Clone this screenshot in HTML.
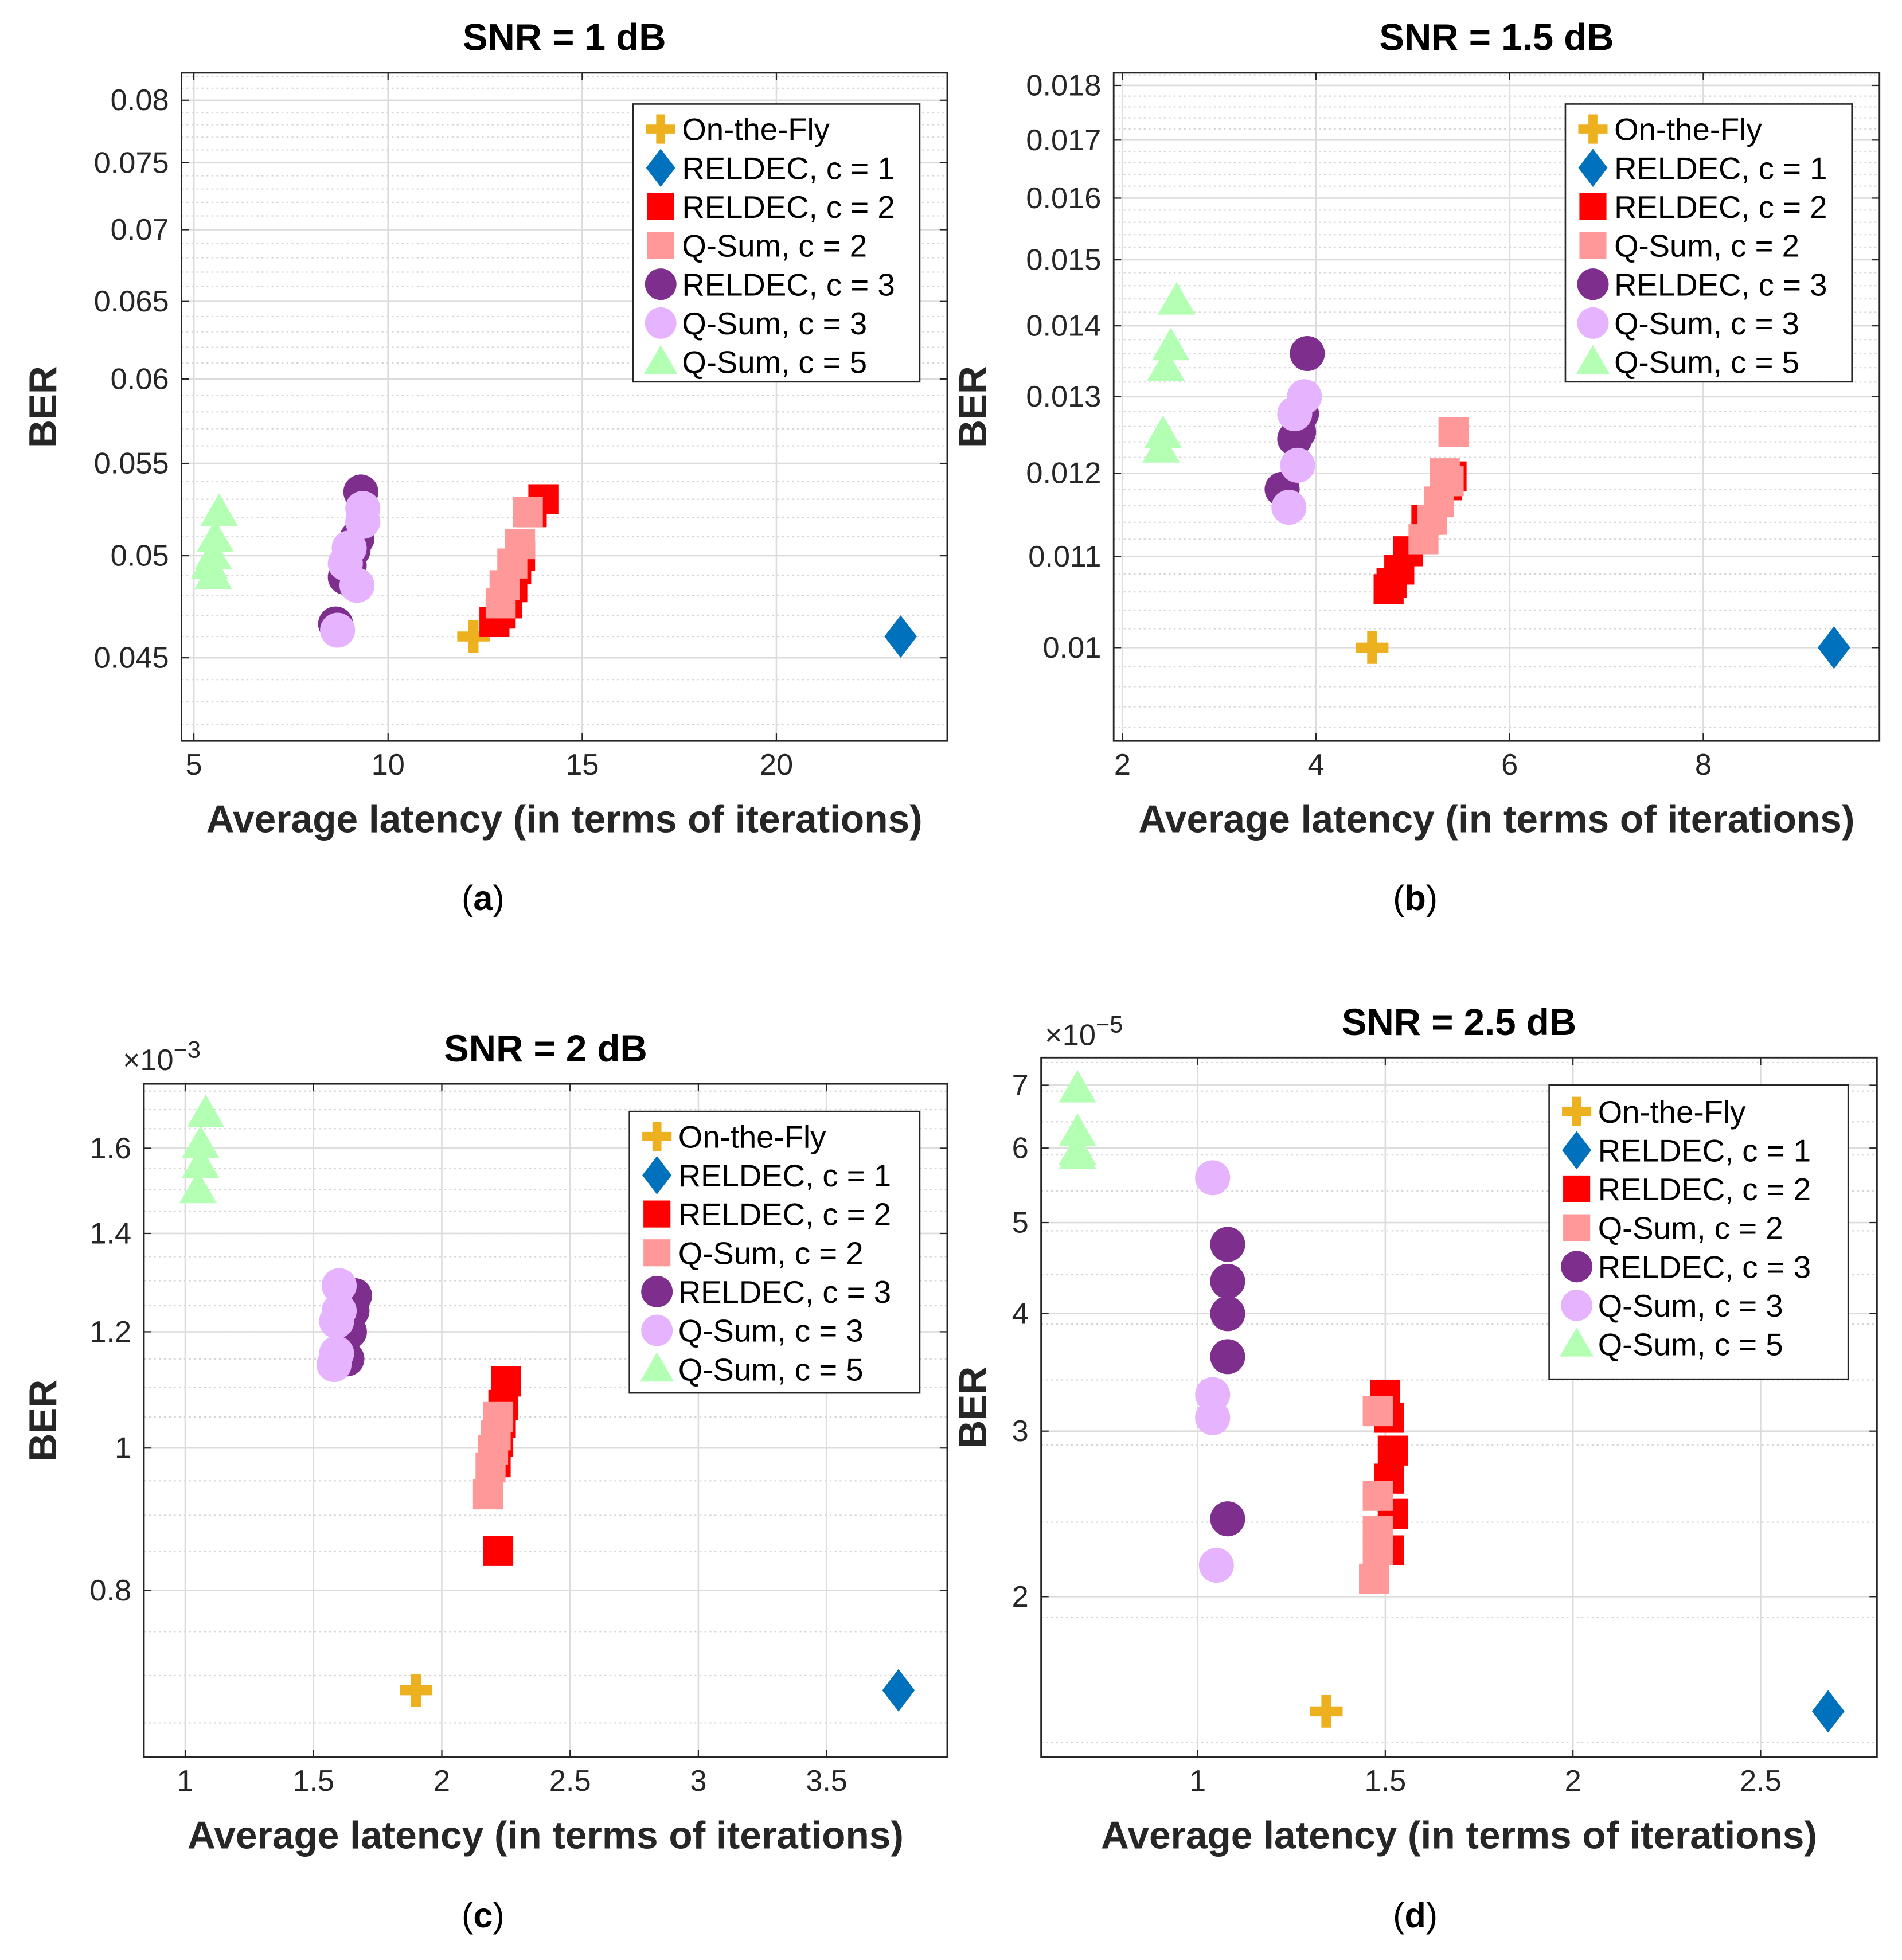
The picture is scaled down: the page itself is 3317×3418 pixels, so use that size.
<!DOCTYPE html>
<html><head><meta charset="utf-8">
<style>
html,body{margin:0;padding:0;background:#fff;}
svg{display:block;}
text{font-family:"Liberation Sans",sans-serif;}
</style></head>
<body>
<svg id="fig" width="3317" height="3418" viewBox="0 0 1520 1566" xmlns="http://www.w3.org/2000/svg"></svg>
<script>
// ---- Panel (a) SNR = 1 dB ----
const aFlyX=[12.2], aFlyY=[0.046];
const aR1X=[23.2], aR1Y=[0.046];
const aR2X=[12.74,12.9,13.06,13.2,13.3,13.4,13.7,14.0], aR2Y=[0.0467,0.0471,0.0476,0.0484,0.0493,0.0500,0.0523,0.0530];
const aQ2X=[12.9,13.0,13.2,13.4,13.6], aQ2Y=[0.0476,0.0485,0.0496,0.0506,0.0523];
const aR3X=[8.65,8.9,9.0,9.1,9.2,9.3], aR3Y=[0.0466,0.0489,0.0495,0.0503,0.0509,0.0534];
const aQ3X=[8.7,9.2,8.9,9.0,9.35,9.35], aQ3Y=[0.0463,0.0485,0.0496,0.0504,0.0518,0.0525];
const aQ5X=[5.4,5.5,5.5,5.55,5.65], aQ5Y=[0.0495,0.0490,0.0500,0.0509,0.0523];
const aXTicks=[5,10,15,20], aYTicks=[0.045,0.05,0.055,0.06,0.065,0.07,0.075,0.08];
// ---- Panel (b) SNR = 1.5 dB ----
const bFlyX=[4.58], bFlyY=[0.0100];
const bR1X=[9.35], bR1Y=[0.0100];
const bR2X=[4.75,4.78,4.86,4.95,5.14,5.27,5.40,5.35], bR2Y=[0.01063,0.01070,0.01085,0.01106,0.01143,0.01165,0.01196,0.01185];
const bQ2X=[5.11,5.2,5.27,5.33,5.37,5.42], bQ2Y=[0.0112,0.01143,0.01165,0.0120,0.0119,0.01253];
const bR3X=[3.65,3.78,3.82,3.85,3.91], bR3Y=[0.0118,0.01244,0.01253,0.01277,0.01360];
const bQ3X=[3.72,3.81,3.78,3.88], bQ3Y=[0.01158,0.0121,0.01277,0.0130];
const bQ5X=[2.40,2.42,2.45,2.5,2.56], bQ5Y=[0.01231,0.0125,0.01341,0.0137,0.01437];
const bXTicks=[2,4,6,8], bYTicks=[0.01,0.011,0.012,0.013,0.014,0.015,0.016,0.017,0.018];
// ---- Panel (c) SNR = 2 dB (x1e-3) ----
const cFlyX=[1.90], cFlyY=[0.684];
const cR1X=[3.78], cR1Y=[0.684];
const cR2X=[2.22,2.20,2.21,2.22,2.23,2.24,2.25], cR2Y=[0.851,0.997,0.978,1.01,1.04,1.07,1.11];
const cQ2X=[2.18,2.19,2.20,2.21,2.22], cQ2Y=[0.93,0.97,0.997,1.02,1.05];
const cR3X=[1.63,1.64,1.65,1.66], cR3Y=[1.15,1.20,1.24,1.27];
const cQ3X=[1.58,1.59,1.59,1.60,1.60], cQ3Y=[1.14,1.16,1.22,1.24,1.29];
const cQ5X=[1.05,1.06,1.06,1.08], cQ5Y=[1.50,1.56,1.61,1.69];
const cXTicks=[1,1.5,2,2.5,3,3.5], cYTicks=[0.8,1,1.2,1.4,1.6];
// ---- Panel (d) SNR = 2.5 dB (x1e-5) ----
const dFlyX=[1.343], dFlyY=[1.51];
const dR1X=[2.68], dR1Y=[1.51];
const dR2X=[1.51,1.52,1.51,1.52,1.51,1.50], dR2Y=[2.24,2.45,2.67,2.86,3.1,3.28];
const dQ2X=[1.47,1.48,1.48,1.48,1.48], dQ2Y=[2.09,2.24,2.35,2.56,3.15];
const dR3X=[1.08,1.08,1.08,1.08,1.08], dR3Y=[2.42,3.6,4.0,4.33,4.74];
const dQ3X=[1.05,1.04,1.04,1.04], dQ3Y=[2.16,3.1,3.28,5.58];
const dQ5X=[0.68,0.68,0.68,0.68], dQ5Y=[5.9,5.96,6.24,6.94];
const dXTicks=[1,1.5,2,2.5], dYTicks=[2,3,4,5,6,7];

const NS="http://www.w3.org/2000/svg";
const svg=document.getElementById('fig');
function el(tag,attrs,parent){const e=document.createElementNS(NS,tag);for(const k in attrs)e.setAttribute(k,attrs[k]);(parent||svg).appendChild(e);return e;}
function txt(s,attrs,parent){const e=el('text',attrs,parent);e.textContent=s;return e;}

const COLORS={fly:'#EDB120',r1:'#0072BD',r2:'#FF0000',q2:'#FF9999',r3:'#7E2F8E',q3:'#E6B3FF',q5:'#B3FFB3'};
const LABELS=[['fly','On-the-Fly'],['r1','RELDEC, c = 1'],['r2','RELDEC, c = 2'],['q2','Q-Sum, c = 2'],['r3','RELDEC, c = 3'],['q3','Q-Sum, c = 3'],['q5','Q-Sum, c = 5']];

function marker(kind,cx,cy,g,s){
  s=s||1;const c=COLORS[kind];let m;
  if(kind==='fly'){m=el('path',{d:`M${cx-4*s},${cy-13*s}h${8*s}v${9*s}h${9*s}v${8*s}h${-9*s}v${9*s}h${-8*s}v${-9*s}h${-9*s}v${-8*s}h${9*s}z`,fill:c},g);}
  else if(kind==='r1'){m=el('path',{d:`M${cx},${cy-17*s}L${cx+13*s},${cy}L${cx},${cy+17*s}L${cx-13*s},${cy}z`,fill:c},g);}
  else if(kind==='r2'||kind==='q2'){m=el('rect',{x:cx-12*s,y:cy-12*s,width:24*s,height:24*s,fill:c},g);}
  else if(kind==='r3'||kind==='q3'){m=el('circle',{cx:cx,cy:cy,r:14*s,fill:c},g);}
  else {m=el('path',{d:`M${cx},${cy-15*s}L${cx+15*s},${cy+11*s}L${cx-15*s},${cy+11*s}z`,fill:c},g);}
  return m;
}

function panel(o){
  const g=el('g',{});
  
  
  const L=o.box[0],T=o.box[1],R=o.box[2],B=o.box[3];
  const sx=v=>L+(v-o.xr[0])/(o.xr[1]-o.xr[0])*(R-L);
  const ly=Math.log10;
  const sy=v=>B-(ly(v)-ly(o.yr[0]))/(ly(o.yr[1])-ly(o.yr[0]))*(B-T);
  el('rect',{x:L,y:T,width:R-L,height:B-T,fill:'#fff'},g);
  for(let v=o.minor[0];v<=o.yr[1];v+=o.minor[1]){const vv=+v.toFixed(8);if(vv<o.yr[0])continue;const y=sy(vv);
    el('line',{x1:L,x2:R,y1:y,y2:y,stroke:'#d4d4d4','stroke-width':1,'stroke-dasharray':'1.5,2.5'},g);}
  o.xt.forEach(v=>{const x=sx(v);el('line',{x1:x,x2:x,y1:T,y2:B,stroke:'#dcdcdc','stroke-width':1.2},g);});
  o.yt.forEach(v=>{const y=sy(v);el('line',{x1:L,x2:R,y1:y,y2:y,stroke:'#dcdcdc','stroke-width':1.2},g);});
  o.series.forEach(s=>{
    const sg=el('g',{},g);
    
    
    s[1].forEach((xv,i)=>{const m=marker(s[0],sx(xv),sy(s[2][i]),sg);
      
      });
  });
  el('rect',{x:L,y:T,width:R-L,height:B-T,fill:'none',stroke:'#262626','stroke-width':1.3},g);
  o.xt.forEach(v=>{const x=sx(v);el('line',{x1:x,x2:x,y1:B,y2:B-6,stroke:'#262626'},g);el('line',{x1:x,x2:x,y1:T,y2:T+6,stroke:'#262626'},g);
    const t=txt(String(v),{x:x,y:B+27,'font-size':24,'text-anchor':'middle',fill:'#262626'},g);
    });
  o.yt.forEach(v=>{const y=sy(v);el('line',{x1:L,x2:L+6,y1:y,y2:y,stroke:'#262626'},g);el('line',{x1:R,x2:R-6,y1:y,y2:y,stroke:'#262626'},g);
    const t=txt(String(v),{x:L-10,y:y+8,'font-size':24,'text-anchor':'end',fill:'#262626'},g);
    });
  const ti=txt(o.title,{x:(L+R)/2,y:T-18,'font-size':30,'font-weight':'bold','text-anchor':'middle',fill:'#000'},g);
  
  const xl=txt('Average latency (in terms of iterations)',{x:(L+R)/2,y:B+73,'font-size':31,'font-weight':'bold','text-anchor':'middle',fill:'#262626'},g);
  
  const yl=txt('BER',{x:0,y:0,'font-size':31,'font-weight':'bold','text-anchor':'middle',fill:'#262626',transform:`translate(${o.ylx},${(T+B)/2}) rotate(-90)`},g);
  
  if(o.exp){const e=txt('×10',{x:o.exp[0],y:o.exp[1],'font-size':24,fill:'#262626'},g);
    const sp=el('tspan',{dy:-10,'font-size':19},e);sp.textContent=o.exp[2];
    }
  const lg=el('g',{},g);
  
  const [lx,lt,lw,lh,l0]=o.leg;
  el('rect',{x:lx,y:lt,width:lw,height:lh,fill:'#fff',stroke:'#262626','stroke-width':1.2},lg);
  LABELS.forEach((p,i)=>{const y=l0+i*31;const eg=el('g',{},lg);
    
    marker(p[0],lx+22,y,eg,0.9);
    txt(p[1],{x:lx+39,y:y+9,'font-size':25,fill:'#000'},eg);});
  const cap=txt('',{x:(L+R)/2+o.capdx,y:o.capy,'font-size':28,'font-family':'Liberation Serif, serif','text-anchor':'middle',fill:'#000'},g);
  cap.innerHTML='(<tspan font-weight="bold">'+o.cap+'</tspan>)';
  
}

panel({name:'panel-a',box:[145,58,757,592],xr:[4.68,24.4],yr:[0.0413,0.0823],xt:aXTicks,yt:aYTicks,minor:[0.042,0.001],
 title:'SNR = 1 dB',ylx:45,leg:[506,83,229,222,103],cap:'a',capy:727,capdx:-65,
 series:[['fly',aFlyX,aFlyY],['r1',aR1X,aR1Y],['r2',aR2X,aR2Y],['q2',aQ2X,aQ2Y],['r3',aR3X,aR3Y],['q3',aQ3X,aQ3Y],['q5',aQ5X,aQ5Y]]});
panel({name:'panel-b',box:[890,58,1502,592],xr:[1.91,9.82],yr:[0.00907,0.01824],xt:bXTicks,yt:bYTicks,minor:[0.0092,0.0002],
 title:'SNR = 1.5 dB',ylx:788,leg:[1251,83,229,222,103],cap:'b',capy:727,capdx:-65,
 series:[['fly',bFlyX,bFlyY],['r1',bR1X,bR1Y],['r2',bR2X,bR2Y],['q2',bQ2X,bQ2Y],['r3',bR3X,bR3Y],['q3',bQ3X,bQ3Y],['q5',bQ5X,bQ5Y]]});
panel({name:'panel-c',box:[115,866,757,1404],xr:[0.839,3.97],yr:[0.616,1.77],xt:cXTicks,yt:cYTicks,minor:[0.65,0.05],
 title:'SNR = 2 dB',ylx:45,exp:[98,855,'−3'],leg:[503,888,232,225,908],cap:'c',capy:1540,capdx:-50,
 series:[['fly',cFlyX,cFlyY],['r1',cR1X,cR1Y],['r2',cR2X,cR2Y],['q2',cQ2X,cQ2Y],['r3',cR3X,cR3Y],['q3',cQ3X,cQ3Y],['q5',cQ5X,cQ5Y]]});
panel({name:'panel-d',box:[832,845,1500,1404],xr:[0.583,2.81],yr:[1.35,7.49],xt:dXTicks,yt:dYTicks,minor:[1.4,0.5],
 title:'SNR = 2.5 dB',ylx:788,exp:[835,835,'−5'],leg:[1238,867,239,235,888],cap:'d',capy:1540,capdx:-35,
 series:[['fly',dFlyX,dFlyY],['r1',dR1X,dR1Y],['r2',dR2X,dR2Y],['q2',dQ2X,dQ2Y],['r3',dR3X,dR3Y],['q3',dQ3X,dQ3Y],['q5',dQ5X,dQ5Y]]});
</script>
</body></html>
